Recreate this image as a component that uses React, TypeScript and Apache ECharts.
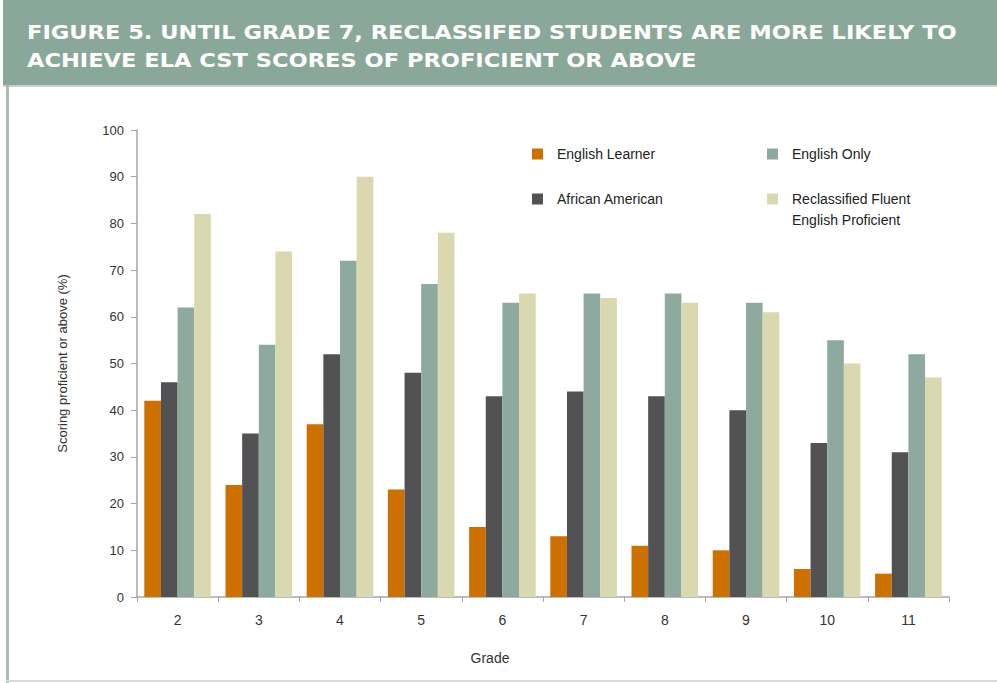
import React, { useEffect, useRef } from "react";
import * as echarts from "echarts";

const grades = ["2", "3", "4", "5", "6", "7", "8", "9", "10", "11"];
const englishLearner = [42, 24, 37, 23, 15, 13, 11, 10, 6, 5];
const africanAmerican = [46, 35, 52, 48, 43, 44, 43, 40, 33, 31];
const englishOnly = [62, 54, 72, 67, 63, 65, 65, 63, 55, 52];
const reclassified = [82, 74, 90, 78, 65, 64, 63, 61, 50, 47];

const seriesNames = [
  "English Learner",
  "African American",
  "English Only",
  "Reclassified Fluent\nEnglish Proficient",
];

const titleLines = [
  "FIGURE 5. UNTIL GRADE 7, RECLASSIFED STUDENTS ARE MORE LIKELY TO",
  "ACHIEVE ELA CST SCORES OF PROFICIENT OR ABOVE",
];

const FONT = "'Liberation Sans', Arial, sans-serif";
const TITLE_FONT = "bold 20px 'DejaVu Sans', sans-serif";

export default function App() {
  const ref = useRef<HTMLDivElement>(null);

  useEffect(() => {
    document.body.style.margin = "0";
    const chart = echarts.init(ref.current!, null, { renderer: "svg" });

    // stretch the header lines so the first one spans the banner
    const titleWidth = (echarts.format as any).getTextRect?.(titleLines[0], TITLE_FONT)?.width;
    const measured = titleWidth || 742;
    const sx = 931 / measured;

    const mk = (name: string, data: number[], color: string) => ({
      name,
      type: "bar" as const,
      data,
      barGap: "0%",
      barCategoryGap: "18%",
      itemStyle: { color },
    });

    const legendAt = (name: string, left: number, top: number) => ({
      left,
      top,
      orient: "vertical",
      itemWidth: 11,
      itemHeight: 11,
      icon: "rect",
      data: [name],
      formatter: (n: string) => n.split("\n")[0],
      textStyle: { fontFamily: FONT, fontSize: 14, color: "#222", padding: [0, 0, 0, 9] },
    });

    chart.setOption({
      animation: false,
      backgroundColor: "#ffffff",
      graphic: [
        { type: "rect", z: -1, shape: { x: 3, y: 0, width: 994, height: 85 }, style: { fill: "#8aa899" } },
        { type: "rect", z: -1, shape: { x: 3, y: 85, width: 994, height: 2 }, style: { fill: "#c5d3cc" } },
        { type: "rect", z: -1, shape: { x: 6, y: 85, width: 3, height: 598 }, style: { fill: "#a8beb3" } },
        { type: "rect", z: -1, shape: { x: 6, y: 680, width: 991, height: 2 }, style: { fill: "#d3ddd8" } },
        ...titleLines.map((line, i) => ({
          type: "text",
          x: 27,
          y: 32 + i * 28,
          scaleX: sx,
          style: {
            text: line,
            fill: "#ffffff",
            font: TITLE_FONT,
            textAlign: "left",
            textVerticalAlign: "middle",
          },
        })),
        {
          type: "text",
          x: 792,
          y: 220,
          style: {
            text: "English Proficient",
            fill: "#222",
            font: `14px ${FONT}`,
            textAlign: "left",
            textVerticalAlign: "middle",
          },
        },
        {
          type: "text",
          x: 490,
          y: 658,
          style: {
            text: "Grade",
            fill: "#333333",
            font: `14px ${FONT}`,
            textAlign: "center",
            textVerticalAlign: "middle",
          },
        },
      ],
      legend: [
        legendAt(seriesNames[0], 527, 142),
        legendAt(seriesNames[1], 527, 187),
        legendAt(seriesNames[2], 762, 142),
        legendAt(seriesNames[3], 762, 187),
      ],
      grid: { left: 137, right: 48, top: 130, bottom: 86, containLabel: false },
      xAxis: {
        type: "category",
        data: grades,
        axisLine: { lineStyle: { color: "#a6a6a6", width: 1.5 } },
        axisTick: { show: true, length: 5, lineStyle: { color: "#a6a6a6" } },
        axisLabel: { fontFamily: FONT, fontSize: 14, color: "#333", margin: 16 },
      },
      yAxis: {
        type: "value",
        min: 0,
        max: 100,
        interval: 10,
        name: "Scoring proficient or above (%)",
        nameLocation: "middle",
        nameGap: 68,
        nameTextStyle: { fontFamily: FONT, fontSize: 13, color: "#333" },
        axisLine: { show: true, lineStyle: { color: "#a6a6a6", width: 1.5 } },
        axisTick: { show: true, length: 6, lineStyle: { color: "#a6a6a6" } },
        splitLine: { show: false },
        axisLabel: { fontFamily: FONT, fontSize: 13, color: "#333", margin: 13 },
      },
      series: [
        mk(seriesNames[0], englishLearner, "#cc7100"),
        mk(seriesNames[1], africanAmerican, "#525254"),
        mk(seriesNames[2], englishOnly, "#8eaa9e"),
        mk(seriesNames[3], reclassified, "#dad8b1"),
      ],
    });
    return () => chart.dispose();
  }, []);

  return <div ref={ref} style={{ width: 997, height: 683 }} />;
}
